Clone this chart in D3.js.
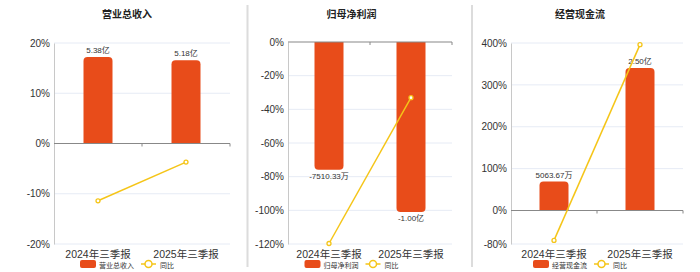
<!DOCTYPE html>
<html>
<head>
<meta charset="utf-8">
<script src="https://cdn.jsdelivr.net/npm/d3@7"></script>
<style>
  body { margin: 0; background: #fff; }
  svg { display: block; font-family: "Liberation Sans", Arial, "Noto Sans CJK SC", sans-serif; }
</style>
</head>
<body>
<svg id="chart" width="700" height="272"></svg>
<script>
// data
const categories = ["2024年三季报", "2025年三季报"];
const titles = ["营业总收入", "归母净利润", "经营现金流"];

const revenueValues = [5.38, 5.18];          // 亿
const revenueLabels = ["5.38亿", "5.18亿"];
const revenueYoY = [-11.4, -3.7];            // %
const revenueTicks = [-20, -10, 0, 10, 20];

const profitValues = [-0.751033, -1.00];     // 亿
const profitLabels = ["-7510.33万", "-1.00亿"];
const profitYoY = [-119.7, -33.1];
const profitTicks = [-120, -100, -80, -60, -40, -20, 0];

const cashValues = [0.506367, 2.50];         // 亿
const cashLabels = ["5063.67万", "2.50亿"];
const cashYoY = [-71.4, 396];
const cashTicks = [-80, 0, 100, 200, 300, 400];

const barColor = "#e84c1a";
const lineColor = "#f5c518";

const svg = d3.select("#chart");

// panel layout
let panels = [
    {title: titles[0], values: revenueValues, labels: revenueLabels, yoy: revenueYoY, ticks: revenueTicks,
     barDomain: [-6.25, 6.25], left: 54, right: 230, top: 43, bottom: 244, center: 127},
    {title: titles[1], values: profitValues, labels: profitLabels, yoy: profitYoY, ticks: profitTicks,
     barDomain: [-1.188, 0], left: 288, right: 452, top: 42, bottom: 244, center: 351.5},
    {title: titles[2], values: cashValues, labels: cashLabels, yoy: cashYoY, ticks: cashTicks,
     barDomain: [-0.588, 2.937], left: 511, right: 683, top: 43, bottom: 244, center: 580}
];

// separators between panels
[247.5, 472].forEach(function (x) {
    svg.append("line")
        .attr("x1", x).attr("x2", x).attr("y1", 5).attr("y2", 267)
        .attr("stroke", "#dcdcdc").attr("stroke-width", 2);
});

function barPath(x, w, y0, y1, r) {
    // rounded corners on the outer end of the bar
    let h = Math.abs(y1 - y0);
    r = Math.min(r, h / 2, w / 2);
    if (y1 < y0) {
        return `M${x},${y0} L${x},${y1 + r} Q${x},${y1} ${x + r},${y1} L${x + w - r},${y1} Q${x + w},${y1} ${x + w},${y1 + r} L${x + w},${y0} Z`;
    }
    return `M${x},${y0} L${x},${y1 - r} Q${x},${y1} ${x + r},${y1} L${x + w - r},${y1} Q${x + w},${y1} ${x + w},${y1 - r} L${x + w},${y0} Z`;
}

panels.forEach(function (p) {
    let g = svg.append("g");
    let tExt = d3.extent(p.ticks);

    let x = d3.scaleBand().domain(categories).range([p.left, p.right]);
    let y = d3.scaleLinear().domain(tExt).range([p.bottom, p.top]);
    let yBar = d3.scaleLinear().domain(p.barDomain).range([p.bottom, p.top]);

    // title
    g.append("text")
        .attr("x", p.center).attr("y", 18)
        .attr("text-anchor", "middle")
        .attr("font-size", "10px").attr("font-weight", "bold")
        .attr("fill", "#222")
        .text(p.title);

    // grid lines
    g.selectAll(".grid")
        .data(p.ticks.filter(d => d !== 0))
        .enter().append("line")
        .attr("x1", p.left).attr("x2", p.right)
        .attr("y1", d => y(d)).attr("y2", d => y(d))
        .attr("stroke", "#e6ebf5").attr("stroke-width", 1);

    // left axis
    let yAxis = g.append("g")
        .attr("transform", `translate(${p.left},0)`)
        .call(d3.axisLeft(y).tickValues(p.ticks).tickSize(0).tickPadding(4).tickFormat(d => d + "%"));
    yAxis.select(".domain").attr("stroke", "#c8c8c8");
    yAxis.selectAll("text").attr("font-size", "10px").attr("fill", "#333")
        .attr("font-family", "Liberation Sans, Arial, sans-serif");

    // bars
    let bw = 29;
    g.selectAll(".bar")
        .data(p.values)
        .enter().append("path")
        .attr("fill", barColor)
        .attr("d", (d, i) => barPath(x(categories[i]) + x.bandwidth() / 2 - bw / 2, bw, yBar(0), yBar(d), 4));

    // zero line and category ticks
    let y0 = y(0);
    g.append("line")
        .attr("x1", p.left).attr("x2", p.right)
        .attr("y1", y0).attr("y2", y0)
        .attr("stroke", "#888").attr("stroke-width", 1.2);
    g.selectAll(".ctick")
        .data(categories)
        .enter().append("line")
        .attr("x1", d => x(d) + x.bandwidth()).attr("x2", d => x(d) + x.bandwidth())
        .attr("y1", y0).attr("y2", y0 + 3)
        .attr("stroke", "#888");

    // bar labels
    g.selectAll(".blabel")
        .data(p.values)
        .enter().append("text")
        .attr("x", (d, i) => x(categories[i]) + x.bandwidth() / 2)
        .attr("y", d => d >= 0 ? yBar(d) - 4 : yBar(d) + 9)
        .attr("text-anchor", "middle")
        .attr("font-size", "8px").attr("fill", "#333")
        .text((d, i) => p.labels[i]);

    // yoy line
    let line = d3.line()
        .x((d, i) => x(categories[i]) + x.bandwidth() / 2)
        .y(d => y(d));
    g.append("path")
        .datum(p.yoy)
        .attr("d", line)
        .attr("fill", "none")
        .attr("stroke", lineColor).attr("stroke-width", 1.5);
    g.selectAll(".pt")
        .data(p.yoy)
        .enter().append("circle")
        .attr("cx", (d, i) => x(categories[i]) + x.bandwidth() / 2)
        .attr("cy", d => y(d))
        .attr("r", 2)
        .attr("fill", "#fff")
        .attr("stroke", lineColor).attr("stroke-width", 1.3);

    // x labels
    g.selectAll(".xl")
        .data(categories)
        .enter().append("text")
        .attr("x", d => x(d) + x.bandwidth() / 2)
        .attr("y", 258)
        .attr("text-anchor", "middle")
        .attr("font-size", "10.5px").attr("fill", "#333")
        .text(d => d);

    // legend
    let c = p.center;
    g.append("rect")
        .attr("x", c - 47).attr("y", 260).attr("width", 16).attr("height", 8).attr("rx", 2)
        .attr("fill", barColor);
    g.append("text")
        .attr("x", c - 28).attr("y", 267.5)
        .attr("font-size", "7px").attr("fill", "#333")
        .text(p.title);
    g.append("line")
        .attr("x1", c + 14).attr("x2", c + 29).attr("y1", 264).attr("y2", 264)
        .attr("stroke", lineColor).attr("stroke-width", 1.5);
    g.append("circle")
        .attr("cx", c + 21.5).attr("cy", 264).attr("r", 3.5)
        .attr("fill", "#fff").attr("stroke", lineColor).attr("stroke-width", 1.5);
    g.append("text")
        .attr("x", c + 33).attr("y", 267.5)
        .attr("font-size", "7px").attr("fill", "#333")
        .text("同比");
});
</script>
</body>
</html>
